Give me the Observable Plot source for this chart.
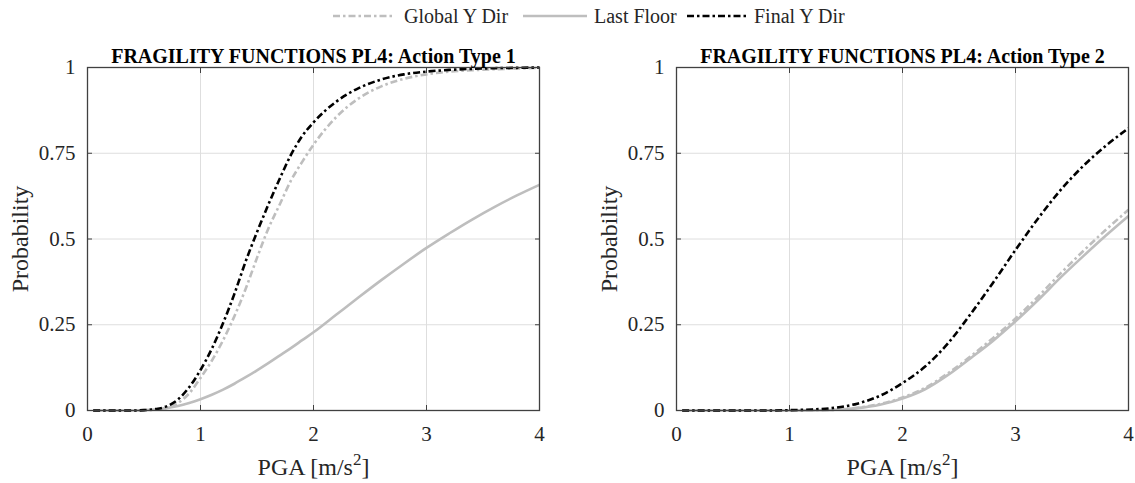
<!DOCTYPE html>
<html><head><meta charset="utf-8">
<script src="https://cdn.jsdelivr.net/npm/d3@7"></script>
<script src="https://cdn.jsdelivr.net/npm/@observablehq/plot@0.6"></script>
<style>
body{margin:0;background:#fff;font-family:"Liberation Serif","Times New Roman",serif}
#row{display:flex}
svg{display:block}
</style></head><body>
<div id="legend"></div><div id="row"></div>
<script>
// ---- data ----
const seriesNames = ["Global Y Dir", "Last Floor", "Final Y Dir"];
const titles = ["FRAGILITY FUNCTIONS PL4: Action Type 1", "FRAGILITY FUNCTIONS PL4: Action Type 2"];
const xLabel = "PGA [m/s^2]";
const yLabel = "Probability";
const xTicks = [0, 1, 2, 3, 4];
const yTicks = [0, 0.25, 0.5, 0.75, 1];
const yTickLabels = ["0", "0.25", "0.5", "0.75", "1"];

// Panel 1 (Action Type 1)
const pga1 = [0.05,0.2,0.4,0.5,0.6,0.7,0.8,0.9,1.0,1.1,1.2,1.3,1.4,1.5,1.6,1.7,1.8,1.9,2.0,2.2,2.4,2.6,2.8,3.0,3.2,3.4,3.6,3.8,4.0];
const global1 = [0,0,0,0.0005,0.002,0.008,0.022,0.05,0.095,0.145,0.205,0.275,0.355,0.445,0.53,0.60,0.67,0.725,0.775,0.855,0.91,0.945,0.967,0.98,0.988,0.992,0.995,0.997,0.999];
const floor1  = [0,0,0,0.001,0.003,0.007,0.013,0.022,0.033,0.046,0.061,0.078,0.097,0.117,0.138,0.16,0.182,0.205,0.228,0.279,0.33,0.38,0.428,0.474,0.516,0.556,0.593,0.627,0.658];
const final1  = [0,0,0,0.001,0.004,0.012,0.032,0.068,0.118,0.18,0.255,0.34,0.435,0.52,0.60,0.675,0.745,0.80,0.84,0.90,0.94,0.965,0.98,0.988,0.993,0.996,0.998,0.999,1.0];

// Panel 2 (Action Type 2)
const pga2 = [0.05,0.4,0.8,1.0,1.2,1.4,1.6,1.8,2.0,2.2,2.4,2.6,2.8,3.0,3.2,3.4,3.6,3.8,4.0];
const global2 = [0,0,0,0,0.0005,0.002,0.008,0.019,0.038,0.066,0.108,0.157,0.211,0.268,0.332,0.4,0.465,0.527,0.585];
const floor2  = [0,0,0,0,0.0005,0.002,0.007,0.017,0.035,0.062,0.103,0.152,0.203,0.26,0.322,0.388,0.45,0.51,0.567];
const final2  = [0,0,0,0.001,0.003,0.008,0.02,0.043,0.08,0.128,0.195,0.28,0.372,0.468,0.56,0.643,0.713,0.772,0.823];

// ---- styles ----
const styles = {
  "Global Y Dir": {stroke: "#bebebe", strokeWidth: 2.6, strokeDasharray: "7,3,2.5,3", strokeLinecap: "butt"},
  "Last Floor":   {stroke: "#bebebe", strokeWidth: 2.6, strokeDasharray: null, strokeLinecap: "butt"},
  "Final Y Dir":  {stroke: "#000000", strokeWidth: 2.6, strokeDasharray: "7,3,2.5,3", strokeLinecap: "butt"}
};
const drawOrder = ["Last Floor", "Global Y Dir", "Final Y Dir"];
const font = "Liberation Serif, Times New Roman, serif";

// ---- legend ----
(function legend(){
  const items = [
    {name: "Global Y Dir", x1: 333, x2: 395, tx: 404},
    {name: "Last Floor", x1: 523, x2: 587, tx: 594},
    {name: "Final Y Dir", x1: 687, x2: 746, tx: 754}
  ];
  const svg = d3.select("#legend").append("svg").attr("width", 1135).attr("height", 34);
  for (const it of items) {
    const s = styles[it.name];
    svg.append("line").attr("x1", it.x1).attr("x2", it.x2).attr("y1", 16).attr("y2", 16)
      .attr("stroke", s.stroke).attr("stroke-width", s.strokeWidth)
      .attr("stroke-dasharray", s.strokeDasharray);
    svg.append("text").attr("x", it.tx).attr("y", 23).attr("font-family", font)
      .attr("font-size", 20).attr("fill", "#262626").text(it.name);
  }
})();

// ---- panels ----
const layout = [
  {width: 567, marginLeft: 87, marginRight: 28},
  {width: 568, marginLeft: 109, marginRight: 7}
];
const panels = [
  {pga: pga1, values: {"Global Y Dir": global1, "Last Floor": floor1, "Final Y Dir": final1}},
  {pga: pga2, values: {"Global Y Dir": global2, "Last Floor": floor2, "Final Y Dir": final2}}
];

panels.forEach((p, i) => {
  const lines = drawOrder.map(name => {
    const rows = p.pga.map((x, j) => ({x, y: p.values[name][j]}));
    return Plot.line(rows, {x: "x", y: "y", curve: "monotone-x", ...styles[name]});
  });
  const chart = Plot.plot({
    width: layout[i].width, height: 449,
    marginLeft: layout[i].marginLeft, marginRight: layout[i].marginRight,
    marginTop: 33, marginBottom: 73,
    style: {fontFamily: font, fontSize: "21px", color: "#262626", background: "#fff", overflow: "visible"},
    x: {domain: [0, 4]},
    y: {domain: [0, 1]},
    marks: [
      Plot.gridX(xTicks, {stroke: "#dedede", strokeOpacity: 1, strokeWidth: 1}),
      Plot.gridY(yTicks, {stroke: "#dedede", strokeOpacity: 1, strokeWidth: 1}),
      ...lines,
      Plot.frame({stroke: "#404040", strokeWidth: 1.3}),
      Plot.axisX(xTicks, {anchor: "bottom", tickSize: -5, tickPadding: 21, tickFormat: d => String(d), label: null, stroke: "#404040", fontSize: 21}),
      Plot.axisX(xTicks, {anchor: "top", tickSize: -5, tickFormat: () => "", label: null, stroke: "#404040"}),
      Plot.axisY(yTicks, {anchor: "left", tickSize: -5, tickPadding: 17, tickFormat: d => yTickLabels[yTicks.indexOf(d)], label: null, stroke: "#404040", fontSize: 21}),
      Plot.axisY(yTicks, {anchor: "right", tickSize: -5, tickFormat: () => "", label: null, stroke: "#404040"}),
      Plot.text([titles[i]], {text: d => d, frameAnchor: "top", lineAnchor: "middle", dy: -11, fontWeight: "bold", fontSize: 20, fill: "#000"}),
      Plot.text([xLabel], {text: d => d, frameAnchor: "bottom", lineAnchor: "middle", dy: 57, fontSize: 24, fill: "#262626"}),
      Plot.text([yLabel], {text: d => d, frameAnchor: "left", textAnchor: "middle", lineAnchor: "middle", dx: -67, rotate: -90, fontSize: 24, fill: "#262626"})
    ]
  });
  document.getElementById("row").appendChild(chart);
  // superscript in x label
  d3.select(chart).selectAll("text").filter(function(){ return this.textContent === xLabel; }).each(function(){
    const parts = xLabel.split("^");
    const t = d3.select(this);
    t.text(null);
    t.append("tspan").text(parts[0]);
    t.append("tspan").attr("dy", -10).attr("font-size", 17).text(parts[1][0]);
    t.append("tspan").attr("dy", 10).text(parts[1].slice(1));
  });
});
</script>
</body></html>
